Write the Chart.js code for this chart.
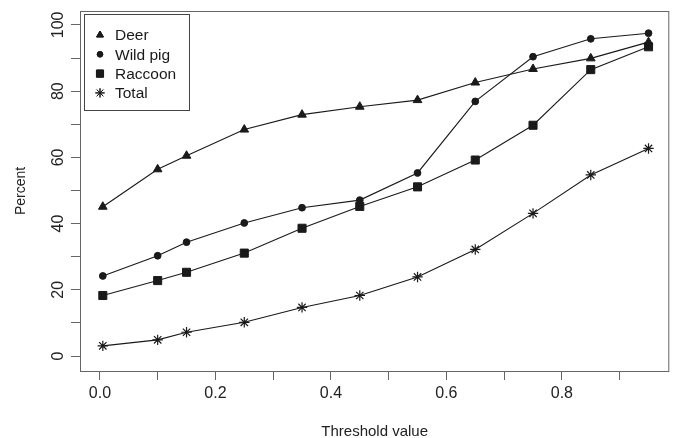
<!DOCTYPE html>
<html>
<head>
<meta charset="utf-8">
<script src="https://cdn.jsdelivr.net/npm/chart.js@4/dist/chart.umd.min.js"></script>
<style>
  html, body { margin: 0; padding: 0; background: #fff; }
  #wrap { width: 676px; height: 438px; }
</style>
</head>
<body>
<div id="wrap"><canvas id="lineChart"></canvas></div>
<script>
// Threshold values on the x axis
const thresholds = [0.005, 0.1, 0.15, 0.25, 0.35, 0.45, 0.55, 0.65, 0.75, 0.85, 0.95];

// Percent for each species
const deer    = [45.1, 56.4, 60.5, 68.4, 72.9, 75.3, 77.3, 82.6, 86.7, 89.9, 94.8];
const wildPig = [24.2, 30.3, 34.4, 40.2, 44.8, 47.1, 55.3, 76.9, 90.4, 95.8, 97.5];
const raccoon = [18.3, 22.8, 25.3, 31.1, 38.6, 45.2, 51.1, 59.2, 69.7, 86.5, 93.4];
const total   = [3.1, 4.9, 7.2, 10.2, 14.7, 18.3, 23.9, 32.2, 43.1, 54.7, 62.7];

const yTickLabels = [0, 20, 40, 60, 80, 100];
const xTickLabels = [0.0, 0.2, 0.4, 0.6, 0.8];

const axisColor = '#666';
const inkColor = '#1a1a1a';
const fontFamily = '"Liberation Sans", Arial, sans-serif';

function points(values) {
    return thresholds.map((x, i) => ({ x: x, y: values[i] }));
}

function series(label, values, style, radius, legendRadius) {
    return {
        label: label,
        data: points(values),
        showLine: true,
        borderColor: inkColor,
        borderWidth: 1.1,
        backgroundColor: inkColor,
        pointStyle: style,
        pointRadius: radius,
        pointBorderWidth: style === 'star' ? 1.2 : 1,
        pointBorderColor: inkColor,
        pointBackgroundColor: inkColor,
        legendRadius: legendRadius,
        tension: 0
    };
}

// box round the plot, rotated y labels and the legend
const framePlugin = {
    id: 'frame',
    afterDraw(chart) {
        const ctx = chart.ctx;
        const area = chart.chartArea;
        const yScale = chart.scales.y;

        ctx.save();
        ctx.strokeStyle = axisColor;
        ctx.lineWidth = 1;
        ctx.strokeRect(area.left + 0.5, area.top + 0.5, area.right - area.left - 1, area.bottom - area.top);

        // y tick labels, read bottom to top
        ctx.fillStyle = '#222';
        ctx.font = '16px ' + fontFamily;
        ctx.textAlign = 'center';
        ctx.textBaseline = 'middle';
        yTickLabels.forEach(v => {
            const py = yScale.getPixelForValue(v);
            ctx.save();
            ctx.translate(area.left - 21, py);
            ctx.rotate(-Math.PI / 2);
            ctx.fillText(String(v), 0, 0);
            ctx.restore();
        });

        // legend
        const lx = area.left + 4, ly = area.top + 3;
        ctx.strokeStyle = '#444';
        ctx.strokeRect(lx + 0.5, ly + 0.5, 105, 96);
        ctx.font = '15.5px ' + fontFamily;
        ctx.textAlign = 'left';
        ctx.fillStyle = inkColor;
        chart.data.datasets.forEach((ds, i) => {
            const ry = ly + 21 + i * 19.3;
            Chart.helpers.drawPoint(ctx, {
                pointStyle: ds.pointStyle,
                radius: ds.legendRadius,
                borderWidth: ds.pointBorderWidth,
                rotation: 0
            }, lx + 16, ry);
            ctx.fillStyle = inkColor;
            ctx.strokeStyle = inkColor;
            ctx.fill();
            ctx.stroke();
            ctx.fillText(ds.label, lx + 31, ry + 1);
        });
        ctx.restore();
    }
};

const ctx = document.getElementById('lineChart').getContext('2d');
new Chart(ctx, {
    type: 'scatter',
    data: {
        datasets: [
            series('Deer', deer, 'triangle', 5, 4),
            series('Wild pig', wildPig, 'circle', 3.4, 2.8),
            series('Raccoon', raccoon, 'rect', 5.7, 5),
            series('Total', total, 'star', 5.2, 4.6)
        ]
    },
    options: {
        responsive: true,
        maintainAspectRatio: false,
        animation: false,
        layout: { padding: { top: 11, right: 4, left: 0, bottom: 0 } },
        plugins: { legend: { display: false }, tooltip: { enabled: false } },
        scales: {
            x: {
                type: 'linear',
                min: -0.0345,
                max: 0.986,
                afterFit(scale) { scale.height = 67; },
                border: { display: false },
                grid: { drawOnChartArea: false, drawTicks: true, tickLength: 9, color: axisColor },
                ticks: {
                    stepSize: 0.1,
                    includeBounds: false,
                    maxRotation: 0,
                    color: '#222',
                    padding: 4,
                    font: { family: fontFamily, size: 16 },
                    callback(v) {
                        const hit = xTickLabels.find(t => Math.abs(t - v) < 1e-6);
                        return hit === undefined ? '' : hit.toFixed(1);
                    }
                },
                title: {
                    display: true,
                    text: 'Threshold value',
                    color: '#222',
                    font: { family: fontFamily, size: 15 },
                    padding: { top: 0, bottom: -3 }
                }
            },
            y: {
                min: -4.5,
                max: 104.2,
                afterFit(scale) { scale.width = 80; },
                border: { display: false },
                grid: { drawOnChartArea: false, drawTicks: true, tickLength: 9, color: axisColor },
                ticks: {
                    stepSize: 10,
                    includeBounds: false,
                    callback() { return ''; }
                },
                title: {
                    display: true,
                    text: 'Percent',
                    color: '#222',
                    font: { family: fontFamily, size: 14 },
                    padding: { top: 13, bottom: 0 }
                }
            }
        }
    },
    plugins: [framePlugin]
});
</script>
</body>
</html>
